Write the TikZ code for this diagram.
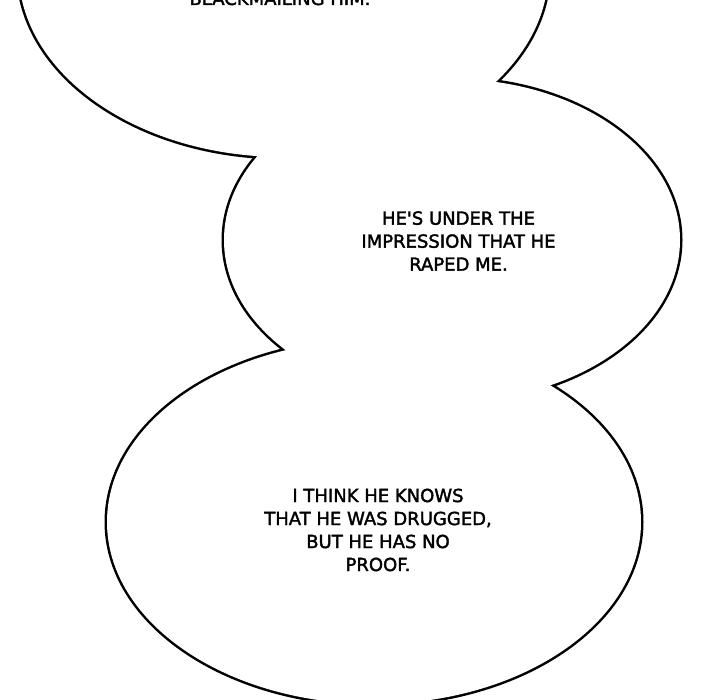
\documentclass[tikz,border=0pt]{standalone}
\usepackage{fontspec}
\setmainfont{DejaVu Sans}
\newfontfamily\comicfont[FakeBold=2]{DejaVu Sans}
\begin{document}
\begin{tikzpicture}[x=1pt,y=-1pt,
  blobline/.style={draw=black,line width=5pt},
  blobfill/.style={fill=white},
  speech/.style={align=center,text=black,font=\comicfont\fontsize{18}{23}\selectfont,inner sep=0pt}]
\useasboundingbox (0,0) rectangle (720,700);
\clip (0,0) rectangle (720,700);
\fill[white] (0,0) rectangle (720,700);
% outlines (double width, inner half erased by the fills)
\path[blobline] (283.5,-30) ellipse [x radius=265pt, y radius=187pt];
\path[blobline] (452,240) ellipse [x radius=228pt, y radius=161pt];
\path[blobline] (374,522) ellipse [x radius=267pt, y radius=182pt];
\path[blobfill] (283.5,-30) ellipse [x radius=265pt, y radius=187pt];
\path[blobfill] (452,240) ellipse [x radius=228pt, y radius=161pt];
\path[blobfill] (374,522) ellipse [x radius=267pt, y radius=182pt];
% texts
\node[speech,anchor=base] (t1) at (280,5) {BLACKMAILING HIM.};
\node[speech] (t2) at (458.5,241) {HE{\char39}S UNDER THE\\IMPRESSION THAT HE\\RAPED ME.};
\node[speech] (t3) at (378,530) {I THINK HE KNOWS\\THAT HE WAS DRUGGED,\\BUT HE HAS NO\\PROOF.};
\end{tikzpicture}
\end{document}
